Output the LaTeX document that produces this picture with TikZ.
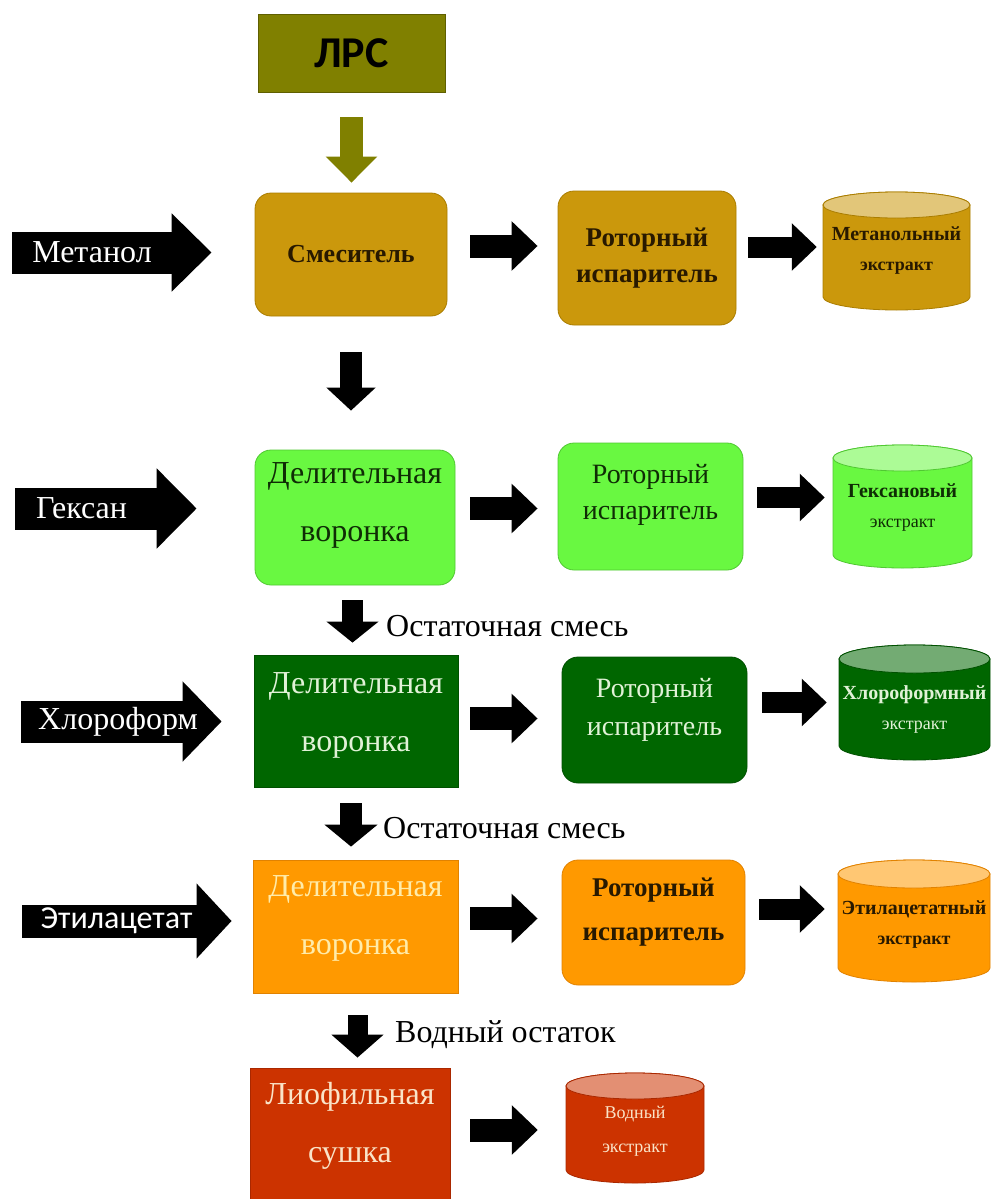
\documentclass[tikz,border=0pt]{standalone}
\usepackage{fontspec}
\setmainfont{Liberation Serif}
\newfontfamily\calib{Carlito}
\usetikzlibrary{arrows.meta}
\definecolor{olv}{RGB}{128,128,0}
\definecolor{olvd}{RGB}{95,95,0}
\definecolor{gold}{RGB}{203,152,12}
\definecolor{goldd}{RGB}{170,125,0}
\definecolor{lgr}{RGB}{105,248,65}
\definecolor{lgrd}{RGB}{80,200,50}
\definecolor{dgr}{RGB}{0,102,0}
\definecolor{dgrd}{RGB}{0,80,0}
\definecolor{org}{RGB}{255,153,0}
\definecolor{orgd}{RGB}{225,130,0}
\definecolor{rd}{RGB}{204,51,0}
\definecolor{rdd}{RGB}{170,40,0}
\definecolor{darkt}{RGB}{40,25,0}
\definecolor{greent}{RGB}{15,45,5}
\definecolor{palegr}{RGB}{225,242,215}
\definecolor{paleor}{RGB}{255,236,170}
\definecolor{palerd}{RGB}{250,228,200}
\newcommand\cyldraw[7]{%
  \pgfmathsetmacro\crx{(#2-#1)/2}%
  \filldraw[fill=#6,draw=#7,line width=0.8pt] (#1,#3+#5) -- (#1,#4-#5)
    arc[start angle=180,end angle=360,x radius=\crx pt,y radius=#5 pt]
    -- (#2,#3+#5)
    arc[start angle=0,end angle=180,x radius=\crx pt,y radius=#5 pt] -- cycle;
  \filldraw[fill=#6!55!white,draw=#7,line width=0.8pt] ({(#1+#2)/2},#3+#5) ellipse[x radius=\crx pt,y radius=#5 pt];
}
\begin{document}
\begin{tikzpicture}[x=1pt,y=-1pt,
  box/.style={draw,line width=0.8pt,inner sep=0pt},
  rbox/.style={box,rounded corners=16pt},
  txt/.style={inner sep=0pt,align=center},
  rtxt/.style={txt,font=\fontsize{28}{36}\selectfont},
  dvtxt/.style={txt,font=\fontsize{32}{58}\selectfont},
  ctxt/.style={inner sep=0pt,align=center,font=\bfseries\fontsize{20}{34}\selectfont},
  inarr/.style={fill=black,draw=black,text=white,inner sep=0pt,minimum height=41pt},
  wtxt/.style={text=white,inner sep=0pt},
  blk/.style={line width=23pt,-{Triangle[length=26pt,width=48pt]}},
  blkr/.style={line width=21pt,-{Triangle[length=25pt,width=46pt]}},
  dn/.style={line width=22pt,-{Triangle[length=23pt,width=48pt]}},
  lbl/.style={anchor=west,inner sep=0pt,font=\fontsize{32}{34}\selectfont}]
\clip (0,0) rectangle (991,1199);
\fill[white] (0,0) rectangle (991,1199);

% ---- row 0
\node[box,fill=olv,draw=olvd,minimum width=187pt,minimum height=78pt,font=\calib\bfseries\fontsize{44}{44}\selectfont] (lrs) at (351.5,53) {ЛРС};

% ---- row 1
\node[rbox,fill=gold,draw=goldd,minimum width=192pt,minimum height=123pt,text=darkt,font=\bfseries\fontsize{26}{28}\selectfont] (smes) at (351,254.5) {Смеситель};
\node[rbox,fill=gold,draw=goldd,minimum width=178pt,minimum height=134pt] (rot1) at (647,258) {};
\node[rtxt,text=darkt,font=\bfseries\fontsize{27}{36}\selectfont] (rot1t) at (rot1.center) {Роторный\\испаритель};
\cyldraw{823}{970}{192}{310}{13}{gold}{goldd}
\node[ctxt,text=darkt,minimum width=147pt,minimum height=118pt] (cyl1) at (896.5,251) {Метанольный\\[-4pt]{\normalfont\bfseries\fontsize{18}{18}\selectfont экстракт}};
\node[inarr,minimum width=160pt,font=\fontsize{32}{32}\selectfont] (met) at (92,252.5) {Метанол};

\draw[olv,line width=23pt,-{Triangle[length=26pt,width=50pt]},shorten <=25pt,shorten >=10pt] (lrs.south) -- (lrs.south |- smes.north);
\draw[line width=41pt,-{Triangle[length=40pt,width=76pt]},shorten >=43pt] ([xshift=-1pt]met.east) -- (met.east -| smes.west);
\draw[blk,shorten <=23pt,shorten >=20pt] ([yshift=8.5pt]smes.east) -- ([yshift=8.5pt]smes.east -| rot1.west);
\draw[blkr,shorten <=12pt,shorten >=6pt] ([yshift=11pt]rot1.east) -- ([yshift=11pt]rot1.east -| cyl1.west);

% ---- row 2
\node[rbox,fill=lgr,draw=lgrd,minimum width=200pt,minimum height=135pt] (dv1) at (355,517.5) {};
\node[dvtxt,text=greent] (dv1t) at ([yshift=12pt]dv1.center) {Делительная\\воронка};
\node[rbox,fill=lgr,draw=lgrd,minimum width=185pt,minimum height=127pt] (rot2) at (650.5,506.5) {};
\node[rtxt,text=greent] (rot2t) at ([yshift=12pt]rot2.center) {Роторный\\испаритель};
\cyldraw{833}{972}{445}{568}{13}{lgr}{lgrd}
\node[ctxt,text=greent,minimum width=139pt,minimum height=123pt] (cyl2) at (902.5,508) {Гексановый\\[-4pt]{\normalfont\fontsize{18}{18}\selectfont экстракт}};
\node[inarr,minimum width=142pt,font=\fontsize{32}{32}\selectfont] (hex) at (86,508.5) {\makebox[142pt]{\hspace*{-9pt}Гексан}};

\draw[dn,shorten <=36pt,shorten >=39pt] (smes.south) -- (smes.south |- dv1.north);
\draw[line width=41pt,-{Triangle[length=40pt,width=78pt]},shorten >=58pt] ([xshift=-1pt]hex.east) -- (hex.east -| dv1.west);
\draw[blk,shorten <=15pt,shorten >=20pt] ([yshift=9pt]dv1.east) -- ([yshift=9pt]dv1.east -| rot2.west);
\draw[blkr,shorten <=14pt,shorten >=8pt] ([yshift=9pt]rot2.east) -- ([yshift=9pt]rot2.east -| cyl2.west);

% ---- row 3
\node[box,fill=dgr,draw=dgrd,minimum width=204pt,minimum height=132pt] (dg) at (356,721) {};
\node[dvtxt,text=palegr] (dgt) at ([yshift=6pt]dg.center) {Делительная\\воронка};
\node[rbox,fill=dgr,draw=dgrd,minimum width=185pt,minimum height=126pt] (rot3) at (654.5,720) {};
\node[rtxt,text=palegr,font=\fontsize{28}{38}\selectfont] (rot3t) at ([yshift=10pt]rot3.center) {Роторный\\испаритель};
\cyldraw{839}{990}{645}{760}{14}{dgr}{dgrd}
\node[ctxt,text=palegr,minimum width=151pt,minimum height=115pt] (cyl3) at (914.5,709) {Хлороформный\\[-4pt]{\normalfont\fontsize{18}{18}\selectfont экстракт}};
\node[inarr,minimum width=162pt] (chl) at (102,721.5) {};

\draw[dn,line width=21pt,-{Triangle[length=21pt,width=51pt]},shorten <=15pt,shorten >=12pt] ([xshift=-2.5pt]dv1.south) -- ([xshift=-2.5pt]dv1.south |- dg.north);
\node[lbl] (lab1) at (386,626) {Остаточная смесь};
\draw[line width=41pt,-{Triangle[length=39pt,width=78pt]},shorten >=32pt] ([xshift=-1pt]chl.east) -- (chl.east -| dg.west);
\draw[blk,shorten <=12pt,shorten >=24pt] ([yshift=2.5pt]dg.east) -- ([yshift=2.5pt]dg.east -| rot3.west);
\draw[blkr,shorten <=15pt,shorten >=12pt] ([yshift=17.5pt]rot3.east) -- ([yshift=17.5pt]rot3.east -| cyl3.west);
\node[wtxt,font=\fontsize{32}{32}\selectfont] (chlt) at (118,721.5) {Хлороформ};

% ---- row 4
\node[box,fill=org,draw=orgd,minimum width=205pt,minimum height=133pt] (or) at (355.5,926.5) {};
\node[dvtxt,text=paleor] (ort) at ([yshift=8pt]or.center) {Делительная\\воронка};
\node[rbox,fill=org,draw=orgd,minimum width=183pt,minimum height=125pt] (rot4) at (653.5,922.5) {};
\node[rtxt,text=darkt,font=\bfseries\fontsize{27}{44}\selectfont] (rot4t) at ([yshift=10pt]rot4.center) {Роторный\\испаритель};
\cyldraw{838}{990}{860}{982}{14}{org}{orgd}
\node[ctxt,text=darkt,minimum width=152pt,minimum height=122pt] (cyl4) at (914,925) {Этилацетатный\\[-4pt]{\fontsize{18}{18}\selectfont экстракт}};
\node[inarr,minimum width=175pt,minimum height=32pt] (eth) at (109.5,921) {};

\draw[dn,line width=22pt,-{Triangle[length=22pt,width=52pt]},shorten <=16pt,shorten >=13pt] ([xshift=-5pt]dg.south) -- ([xshift=-5pt]dg.south |- or.north);
\node[lbl] (lab2) at (383,828) {Остаточная смесь};
\draw[line width=32pt,-{Triangle[length=35pt,width=73pt]},shorten >=21pt] ([xshift=-1pt]eth.east) -- (eth.east -| or.west);
\draw[blk,shorten <=12pt,shorten >=24pt] ([yshift=8pt]or.east) -- ([yshift=8pt]or.east -| rot4.west);
\draw[blkr,shorten <=14pt,shorten >=13pt] ([yshift=13.5pt]rot4.east) -- ([yshift=13.5pt]rot4.east -| cyl4.west);
\node[wtxt,font=\calib\fontsize{32}{32}\selectfont] (etht) at (116.5,921) {Этилацетат};

% ---- row 5
\node[box,fill=rd,draw=rdd,minimum width=200pt,minimum height=147pt] (red) at (350,1141.5) {};
\node[dvtxt,text=palerd] (redt) at (350,1126) {Лиофильная\\сушка};
\cyldraw{566}{704}{1073}{1183}{13}{rd}{rdd}
\node[txt,text=palerd,minimum width=138pt,minimum height=110pt,font=\fontsize{18}{34}\selectfont] (cyl5) at (635,1131) {Водный\\экстракт};

\draw[dn,line width=20pt,-{Triangle[length=23pt,width=51pt]},shorten <=22pt,shorten >=10pt] ([xshift=2pt]or.south) -- ([xshift=2pt]or.south |- red.north);
\node[lbl] (lab3) at (395,1035) {Водный остаток};
\draw[blk,shorten <=20pt,shorten >=28pt] ([yshift=11.5pt]red.east) -- ([yshift=11.5pt]red.east -| cyl5.west);
\end{tikzpicture}
\end{document}
